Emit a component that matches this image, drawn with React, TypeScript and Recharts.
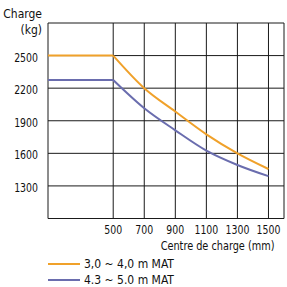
import { LineChart, Line, XAxis, YAxis, CartesianGrid } from 'recharts';

// load centre (mm) and capacity (kg)
const centres = [80, 500, 700, 900, 1100, 1300, 1500];
const mat30 = [2500, 2500, 2200, 1985, 1775, 1600, 1456];
const mat43 = [2275, 2275, 2015, 1812, 1625, 1493, 1390];

const xTicks = [80, 500, 700, 900, 1100, 1300, 1500, 1600];
const yTicks = [1000, 1300, 1600, 1900, 2200, 2500, 2800];
const xLabels = [500, 700, 900, 1100, 1300, 1500];
const yLabels = [1300, 1600, 1900, 2200, 2500];

const ORANGE = '#F0A12A';
const BLUE = '#6A6DAE';
const FONT = "'DejaVu Sans Condensed', 'DejaVu Sans', sans-serif";

// flat part is straight, the rest a curve starting at 500
const data = centres.map((x, i) => ({
  x,
  aFlat: x <= 500 ? mat30[i] : null,
  aCurve: x >= 500 ? mat30[i] : null,
  bFlat: x <= 500 ? mat43[i] : null,
  bCurve: x >= 500 ? mat43[i] : null,
}));

// narrow tick text, the original uses a condensed face
function Tick({ x, y, payload, anchor, labels, dy }: any) {
  if (!labels.includes(payload.value)) return null;
  return (
    <text
      transform={`translate(${x},${y}) scale(0.87,1)`}
      textAnchor={anchor}
      dy={dy}
      fontSize={12}
      fontFamily={FONT}
      fill="#111"
    >
      {payload.value}
    </text>
  );
}

const text = { position: 'absolute' as const, fontFamily: FONT, fontSize: 12, color: '#111', whiteSpace: 'nowrap' as const, lineHeight: '14px' };

export default function App() {
  return (
    <div style={{ position: 'absolute', left: 0, top: 0, width: 287, height: 287, background: '#fff', fontFamily: FONT }}>
      <LineChart width={287} height={287} data={data} margin={{ top: 23, right: 3, left: 0, bottom: 38.5 }}>
        <CartesianGrid stroke="#1a1a1a" strokeWidth={1} />
        <XAxis
          dataKey="x"
          type="number"
          domain={[80, 1600]}
          ticks={xTicks}
          interval={0}
          height={30}
          tick={<Tick anchor="middle" labels={xLabels} dy={10} />}
          tickSize={0}
          tickMargin={5}
          axisLine={false}
          tickLine={false}
        />
        <YAxis
          type="number"
          domain={[1000, 2800]}
          ticks={yTicks}
          interval={0}
          width={48}
          tick={<Tick anchor="end" labels={yLabels} dy={6} />}
          tickSize={0}
          tickMargin={10}
          axisLine={false}
          tickLine={false}
        />
        <Line type="linear" dataKey="aFlat" stroke={ORANGE} strokeWidth={2} dot={false} isAnimationActive={false} />
        <Line type="monotone" dataKey="aCurve" stroke={ORANGE} strokeWidth={2} dot={false} isAnimationActive={false} />
        <Line type="linear" dataKey="bFlat" stroke={BLUE} strokeWidth={2} dot={false} isAnimationActive={false} />
        <Line type="monotone" dataKey="bCurve" stroke={BLUE} strokeWidth={2} dot={false} isAnimationActive={false} />
      </LineChart>
      <div style={{ ...text, right: 245, top: 7, textAlign: 'right' }}>Charge</div>
      <div style={{ ...text, right: 245, top: 23, textAlign: 'right' }}>(kg)</div>
      <div style={{ ...text, right: 13, top: 239, textAlign: 'right', transform: 'scaleX(0.9)', transformOrigin: 'right' }}>
        Centre de charge (mm)
      </div>
      <div style={{ position: 'absolute', left: 48, top: 256 }}>
        {[
          { c: ORANGE, t: '3,0 ~ 4,0 m MAT' },
          { c: BLUE, t: '4.3 ~ 5.0 m MAT' },
        ].map((r) => (
          <div key={r.t} style={{ display: 'flex', alignItems: 'center', height: 16 }}>
            <span style={{ width: 32, height: 2, background: r.c, display: 'inline-block' }} />
            <span style={{ fontFamily: FONT, fontSize: 12, color: '#111', marginLeft: 4, lineHeight: '14px' }}>{r.t}</span>
          </div>
        ))}
      </div>
    </div>
  );
}
